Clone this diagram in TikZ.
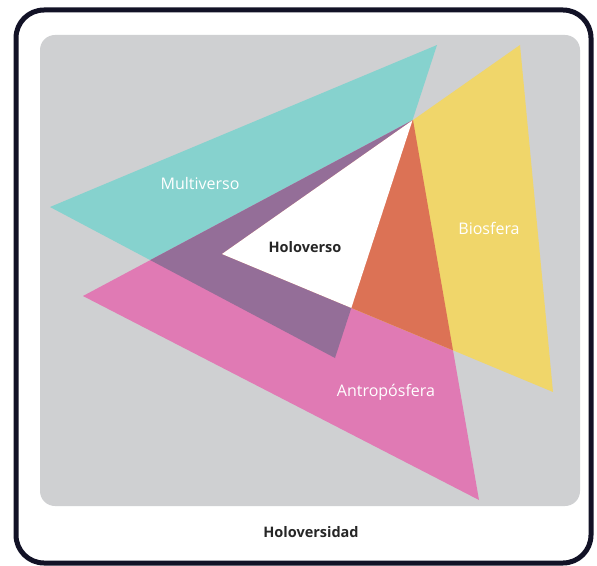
\documentclass[tikz,border=0pt]{standalone}
\usepackage{fontspec}
\setmainfont{Open Sans}
\usepackage{xcolor}
\usepackage{tikz}
\definecolor{framecol}{RGB}{18,18,38}
\definecolor{panelcol}{RGB}{207,208,210}
\definecolor{multicol}{RGB}{134,210,206}
\definecolor{antrocol}{RGB}{224,122,180}
\definecolor{biocol}{RGB}{240,214,106}
\definecolor{mixma}{RGB}{148,110,152}
\definecolor{mixab}{RGB}{220,114,85}
\tikzstyle{sphere} = [text=white, font=\fontsize{16bp}{18bp}\selectfont]
\tikzstyle{core} = [text=black!85, font=\fontsize{14.5bp}{17bp}\selectfont\bfseries]

\begin{document}
\begin{tikzpicture}[x=1bp, y=-1bp]
   \useasboundingbox (0,0) rectangle (597,566);
   \draw [framecol, line width=5bp, rounded corners=28bp, fill=white] (16,10) rectangle (591,563);
   \fill [panelcol, rounded corners=15bp] (40,35) rectangle (580,506);
   % vertices of the three triangles
   \coordinate (m1) at (50,207);
   \coordinate (m2) at (437,45);
   \coordinate (m3) at (335,358);
   \coordinate (a1) at (83,296);
   \coordinate (a2) at (413,120);
   \coordinate (a3) at (479,500);
   \coordinate (b1) at (222,254);
   \coordinate (b2) at (520,45);
   \coordinate (b3) at (553,392);
   \fill [multicol] (m1) -- (m2) -- (m3) -- cycle;
   \fill [antrocol] (a1) -- (a2) -- (a3) -- cycle;
   \fill [biocol] (b1) -- (b2) -- (b3) -- cycle;
   % overlaps
   \begin{scope}
      \clip (m1) -- (m2) -- (m3) -- cycle;
      \fill [mixma] (a1) -- (a2) -- (a3) -- cycle;
   \end{scope}
   \begin{scope}
      \clip (a1) -- (a2) -- (a3) -- cycle;
      \fill [mixab] (b1) -- (b2) -- (b3) -- cycle;
   \end{scope}
   \begin{scope}
      \clip (m1) -- (m2) -- (m3) -- cycle;
      \fill [white] (b1) -- (b2) -- (b3) -- cycle;
   \end{scope}
   \node (mv) [sphere] at (200,183) {Multiverso};
   \node (bs) [sphere] at (489,228) {Biosfera};
   \node (ap) [sphere] at (386,392) {Antropósfera};
   \node (hv) [core] at (305,247) {Holoverso};
   \node (hd) [core] at (311,532) {Holoversidad};
   \end{tikzpicture}
\end{document}
